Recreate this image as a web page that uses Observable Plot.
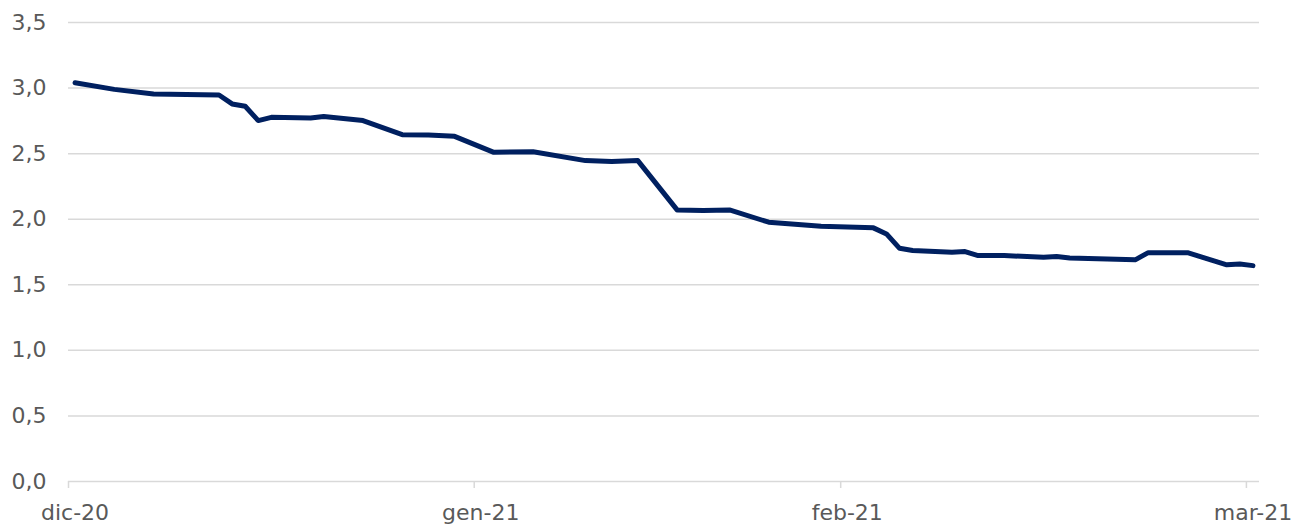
<!DOCTYPE html>
<html><head><meta charset="utf-8">
<script src="https://cdn.jsdelivr.net/npm/d3@7"></script>
<script src="https://cdn.jsdelivr.net/npm/@observablehq/plot@0.6"></script>
<style>html,body{margin:0;padding:0;background:#fff}</style>
</head><body><div id="chart"></div>
<script>
// Category index of each visible vertex of the series (one category per day)
const dayIndex = [0, 3, 6, 11, 12, 13, 14, 15, 18, 19, 22, 25, 27, 29, 32, 35, 39, 41, 43, 46, 48, 50, 53, 55, 57, 61, 62, 63, 64, 67, 68, 69, 71, 74, 75, 76, 81, 82, 85, 88, 89, 90];
const seriesValues = [3.04, 2.99, 2.955, 2.947, 2.879, 2.861, 2.752, 2.777, 2.772, 2.784, 2.752, 2.645, 2.643, 2.632, 2.51, 2.515, 2.447, 2.441, 2.447, 2.071, 2.066, 2.071, 1.977, 1.962, 1.946, 1.934, 1.888, 1.778, 1.761, 1.748, 1.753, 1.723, 1.723, 1.71, 1.715, 1.705, 1.69, 1.745, 1.745, 1.652, 1.659, 1.646];
const monthTickIndex = [0, 31, 59, 90];
const monthLabels = ["dic-20", "gen-21", "feb-21", "mar-21"];
const yTicks = [0, 0.5, 1, 1.5, 2, 2.5, 3, 3.5];

const data = dayIndex.map((d, i) => ({x: d + 0.5, y: seriesValues[i]}));
const labelPos = monthTickIndex.map(d => d + 0.5);

const chart = Plot.plot({
  width: 1293,
  height: 524,
  marginLeft: 68,
  marginRight: 34,
  marginTop: 22,
  marginBottom: 43,
  style: {fontFamily: "'DejaVu Sans', sans-serif", fontSize: "22px", color: "#595959", background: "#fff", overflow: "visible"},
  x: {domain: [0, 91], label: null},
  y: {domain: [0, 3.5], label: null},
  marks: [
    Plot.ruleY(yTicks, {stroke: "#d9d9d9", strokeWidth: 1.5}),
    Plot.axisY(yTicks, {label: null, tickSize: 0, tickPadding: 22, fontSize: 22, fill: "#595959", tickFormat: d => d.toFixed(1).replace(".", ",")}),
    Plot.axisX(monthTickIndex, {label: null, tickSize: 7, stroke: "#d9d9d9", strokeWidth: 1.5, tickFormat: () => ""}),
    Plot.axisX(labelPos, {label: null, tickSize: 0, tickPadding: 23, fontSize: 22, fill: "#595959", tickFormat: d => monthLabels[labelPos.indexOf(d)]}),
    Plot.lineY(data, {x: "x", y: "y", stroke: "#002060", strokeWidth: 5, strokeLinejoin: "round", strokeLinecap: "round"})
  ]
});
document.getElementById("chart").appendChild(chart);
</script>
</body></html>
